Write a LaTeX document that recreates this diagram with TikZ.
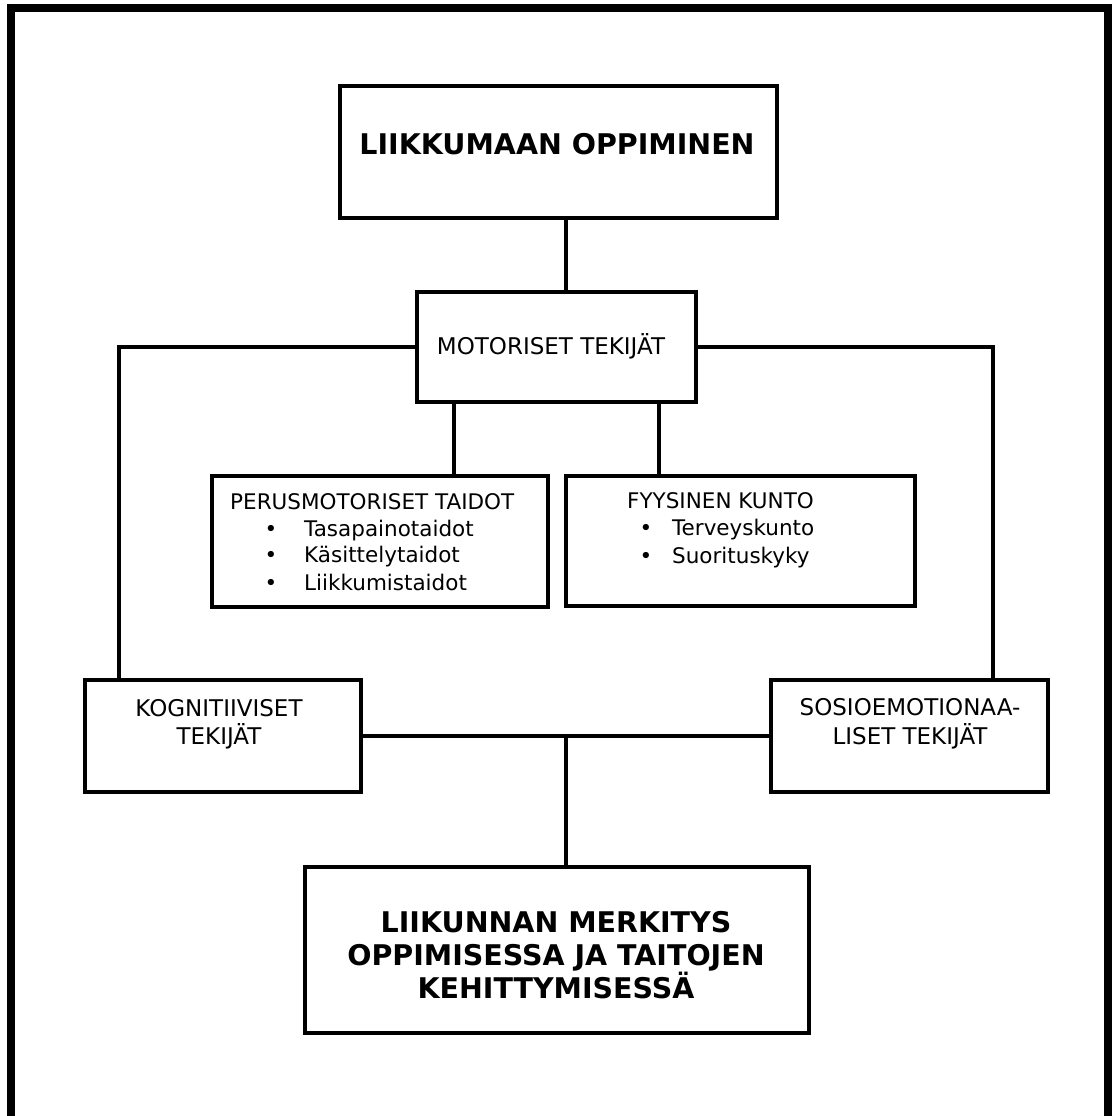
\documentclass[tikz,border=0pt]{standalone}
\usepackage{fontspec}
\setmainfont{DejaVu Sans}
\begin{document}
\begin{tikzpicture}[x=1pt,y=-1pt,
  box/.style={draw=black, line width=3.5pt, rectangle, inner sep=0pt, line join=miter},
  conn/.style={draw=black, line width=3.3pt},
  txt/.style={inner sep=0pt, font=\fontsize{23}{27}\selectfont},
  stxt/.style={inner sep=0pt, font=\fontsize{21.5}{25}\selectfont},
  btxt/.style={inner sep=0pt, font=\fontsize{28.5}{33}\selectfont\bfseries}]
\useasboundingbox (0,0) rectangle (1115,1116);
% outer frame (open at the bottom)
\draw[line width=8pt, line join=miter] (10.5,1120) -- (10.5,8) -- (1108,8) -- (1108,1120);

% boxes
\node[box, minimum width=437pt, minimum height=132pt] (title) at (558.5,152) {};
\node[box, minimum width=279pt, minimum height=110pt] (motor) at (556.5,347) {};
\node[box, minimum width=336pt, minimum height=131pt] (perus) at (380,541.5) {};
\node[box, minimum width=349pt, minimum height=130pt] (fyys) at (740.5,541) {};
\node[box, minimum width=276pt, minimum height=112pt] (kog) at (223,736) {};
\node[box, minimum width=277pt, minimum height=112pt] (sos) at (909.5,736) {};
\node[box, minimum width=504pt, minimum height=166pt] (bot) at (557,950) {};

% connector guide coordinates
\coordinate (cm) at (566,0);
\coordinate (kl) at (119,0);
\coordinate (kr) at (993,0);
\coordinate (pl) at (454,0);
\coordinate (pr) at (659,0);

% connectors
\draw[conn] (title.south -| cm) -- (motor.north -| cm);
\draw[conn] (motor.west) -- (motor.west -| kl) -- (kog.north -| kl);
\draw[conn] (motor.east) -- (motor.east -| kr) -- (sos.north -| kr);
\draw[conn] (motor.south -| pl) -- (perus.north -| pl);
\draw[conn] (motor.south -| pr) -- (fyys.north -| pr);
\draw[conn] (kog.east) -- (sos.west);
\draw[conn] (kog.east -| cm) -- (bot.north -| cm);

% texts
\node[btxt, anchor=base] (t1) at (557,154) {LIIKKUMAAN OPPIMINEN};
\node[txt, anchor=base] (t2) at (551,354) {MOTORISET TEKIJÄT};

\node[stxt, anchor=base west] (p0) at (230,509) {PERUSMOTORISET TAIDOT};
\node[stxt, anchor=base] (pb1) at (271,536) {•};
\node[stxt, anchor=base] (pb2) at (271,562) {•};
\node[stxt, anchor=base] (pb3) at (271,590) {•};
\node[stxt, anchor=base west] (p1) at (304,536) {Tasapainotaidot};
\node[stxt, anchor=base west] (p2) at (304,562) {Käsittelytaidot};
\node[stxt, anchor=base west] (p3) at (304,590) {Liikkumistaidot};

\node[stxt, anchor=base west] (f0) at (627,508) {FYYSINEN KUNTO};
\node[stxt, anchor=base] (fb1) at (646,535) {•};
\node[stxt, anchor=base] (fb2) at (646,563) {•};
\node[stxt, anchor=base west] (f1) at (672,535) {Terveyskunto};
\node[stxt, anchor=base west] (f2) at (672,563) {Suorituskyky};

\node[txt, anchor=base] (k1) at (219,716) {KOGNITIIVISET};
\node[txt, anchor=base] (k2) at (219,744) {TEKIJÄT};

\node[txt, anchor=base] (s1) at (910,715) {SOSIOEMOTIONAA-};
\node[txt, anchor=base] (s2) at (910,744) {LISET TEKIJÄT};

\node[btxt, anchor=base] (b1) at (556,932) {LIIKUNNAN MERKITYS};
\node[btxt, anchor=base] (b2) at (556,965) {OPPIMISESSA JA TAITOJEN};
\node[btxt, anchor=base] (b3) at (556,998) {KEHITTYMISESSÄ};
\end{tikzpicture}
\end{document}
